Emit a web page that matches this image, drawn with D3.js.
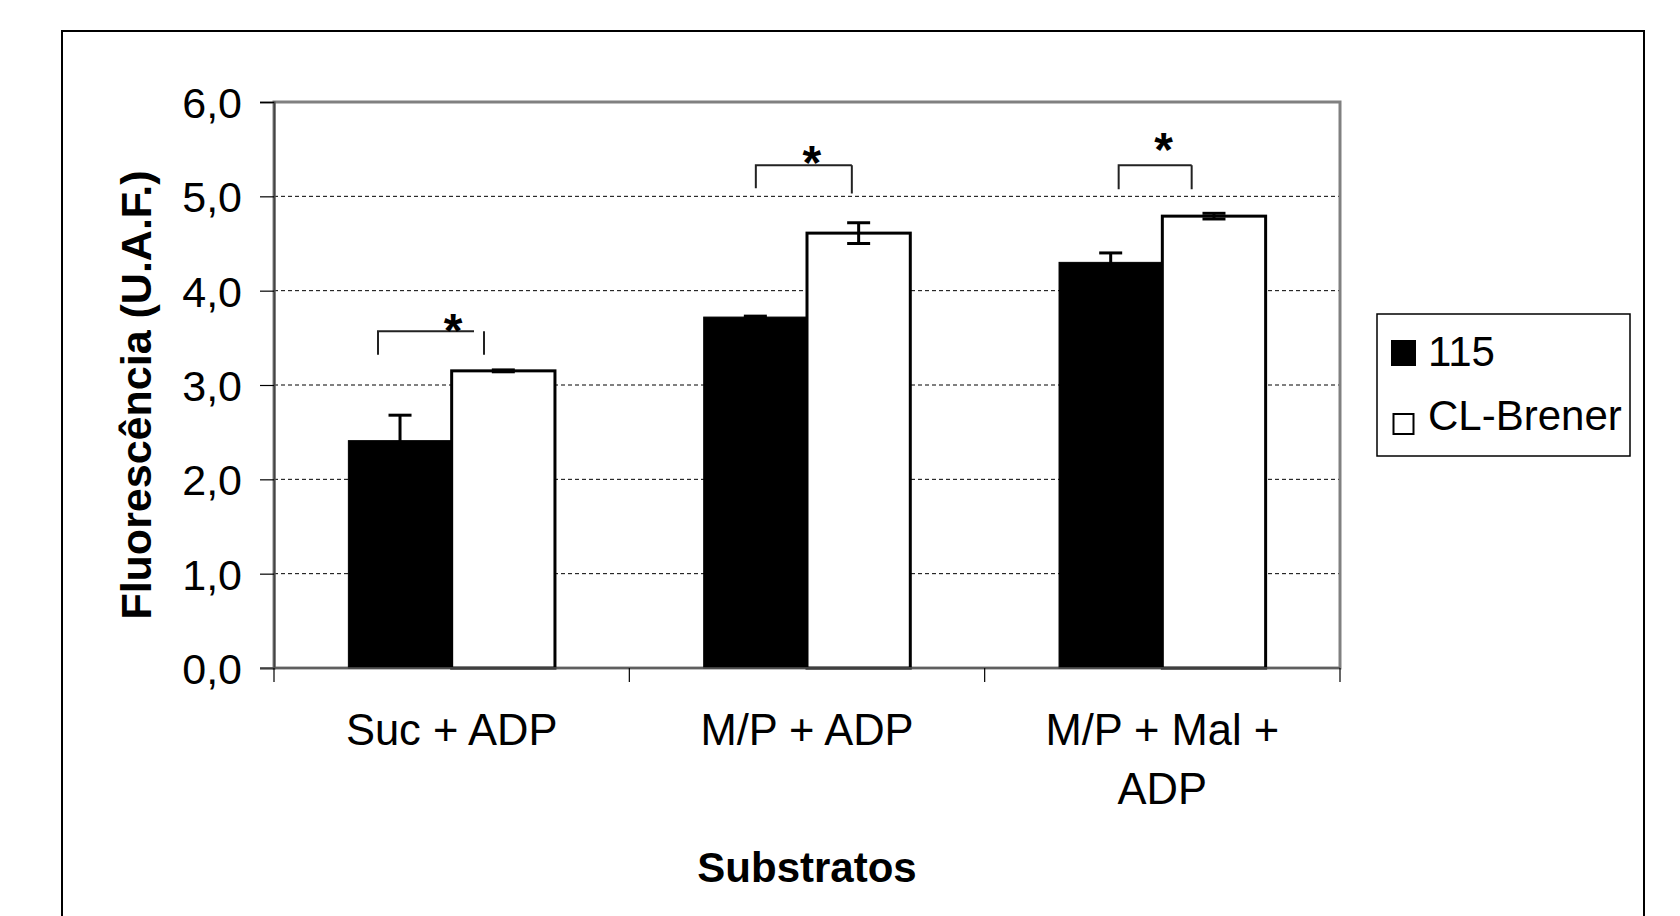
<!DOCTYPE html>
<html>
<head>
<meta charset="utf-8">
<script src="https://cdn.jsdelivr.net/npm/d3@7"></script>
<style>
  body { margin: 0; background: #fff; }
  svg text { font-family: "Liberation Sans", Arial, sans-serif; fill: #000; }
</style>
</head>
<body>
<div class="chartD3"></div>
<script>
// data
const categories = [['Suc + ADP'], ['M/P + ADP'], ['M/P + Mal +', 'ADP']];
const seriesNames = ['115', 'CL-Brener'];
const values115 = [2.41, 3.72, 4.30];
const valuesCL = [3.15, 4.61, 4.79];
const err115 = [0.27, 0.01, 0.10];
const errCL = [0.01, 0.11, 0.03];
const yTicks = [0, 1, 2, 3, 4, 5, 6];
// significance brackets: top / bottom in axis units
const sigTop = [3.57, 5.33, 5.33];
const sigBottomLeft = [3.32, 5.085, 5.075];
const sigBottomRight = [3.32, 5.03, 5.075];
const starY = [3.69, 5.47, 5.61];

let margin = {top: 102, right: 340, bottom: 248, left: 274};
let width = 1680 - margin.left - margin.right;
let height = 916 - margin.top - margin.bottom;

const svg = d3.select('.chartD3').append('svg')
    .attr('width', 1680)
    .attr('height', 916);

// outer frame
svg.append('rect')
    .attr('x', 62).attr('y', 31)
    .attr('width', 1582).attr('height', 1000)
    .attr('fill', 'none').attr('stroke', '#000').attr('stroke-width', 2);

const chart = svg.append('g')
    .attr('transform', 'translate(' + margin.left + ',' + margin.top + ')');

const catKeys = categories.map(c => c.join(' '));
let x0 = d3.scaleBand().domain(catKeys).range([0, width]).padding(0);
let x1 = d3.scaleBand().domain(seriesNames).range([0, x0.bandwidth()])
    .paddingInner(0).paddingOuter(0.72);
let y = d3.scaleLinear().domain([0, 6]).range([height, 0]);

// dashed gridlines
chart.append('g')
    .selectAll('line')
    .data(yTicks.filter(d => d > 0 && d < 6))
    .enter().append('line')
    .attr('x1', 0).attr('x2', width)
    .attr('y1', d => y(d)).attr('y2', d => y(d))
    .attr('stroke', '#000').attr('stroke-width', 1)
    .attr('stroke-dasharray', '4,3');

// plot area border
chart.append('rect')
    .attr('x', 0).attr('y', 0)
    .attr('width', width).attr('height', height)
    .attr('fill', 'none').attr('stroke', '#808080').attr('stroke-width', 3);

// bars
const rows = catKeys.map((k, i) => ({
    key: k,
    bars: [
        {s: seriesNames[0], v: values115[i], e: err115[i]},
        {s: seriesNames[1], v: valuesCL[i], e: errCL[i]}
    ]
}));

const groups = chart.selectAll('.grp')
    .data(rows)
    .enter().append('g')
    .attr('class', 'grp')
    .attr('transform', d => 'translate(' + x0(d.key) + ',0)');

groups.selectAll('rect')
    .data(d => d.bars)
    .enter().append('rect')
    .attr('x', d => x1(d.s))
    .attr('y', d => y(d.v))
    .attr('width', x1.bandwidth())
    .attr('height', d => height - y(d.v))
    .attr('fill', d => d.s === '115' ? '#000' : '#fff')
    .attr('stroke', '#000')
    .attr('stroke-width', d => d.s === '115' ? 1 : 3);

// error bars
const eb = groups.selectAll('.err')
    .data(d => d.bars)
    .enter().append('g')
    .attr('class', 'err')
    .attr('stroke', '#000').attr('stroke-width', 3);
const cx = d => x1(d.s) + x1.bandwidth() / 2;
eb.append('line')
    .attr('x1', cx).attr('x2', cx)
    .attr('y1', d => y(d.v + d.e)).attr('y2', d => y(d.v - d.e));
eb.append('line')
    .attr('x1', d => cx(d) - 11.5).attr('x2', d => cx(d) + 11.5)
    .attr('y1', d => y(d.v + d.e)).attr('y2', d => y(d.v + d.e));
eb.append('line')
    .attr('x1', d => cx(d) - 11.5).attr('x2', d => cx(d) + 11.5)
    .attr('y1', d => y(d.v - d.e)).attr('y2', d => y(d.v - d.e));

// significance brackets (x offsets from group start)
const brLeft = [104, 126.5, 134];
const brHEnd = [200, 222.5, 207];
const brRight = [210, 222.5, 207];
const starX = [179, 182.5, 179];
groups.each(function(d, i) {
    const g = d3.select(this);
    g.append('path')
        .attr('d', 'M' + brLeft[i] + ',' + y(sigBottomLeft[i]) +
                   'V' + y(sigTop[i]) + 'H' + brHEnd[i])
        .attr('fill', 'none').attr('stroke', '#222').attr('stroke-width', 2);
    g.append('line')
        .attr('x1', brRight[i]).attr('x2', brRight[i])
        .attr('y1', y(sigTop[i])).attr('y2', y(sigBottomRight[i]))
        .attr('stroke', '#222').attr('stroke-width', 2);
    g.append('text')
        .attr('x', starX[i]).attr('y', y(starY[i]) + 27)
        .attr('text-anchor', 'middle')
        .style('font-size', '48px').style('font-weight', 'bold')
        .text('*');
});

// y axis
const yAxis = d3.axisLeft(y)
    .tickValues(yTicks)
    .tickSize(14)
    .tickPadding(18)
    .tickFormat(d => d.toFixed(1).replace('.', ','));
const yg = chart.append('g').call(yAxis);
yg.select('.domain').attr('stroke', '#444').attr('stroke-width', 2);
yg.selectAll('.tick line').attr('stroke', '#000').attr('stroke-width', 1.2);
yg.selectAll('.tick text')
    .style('font-size', '43px')
    .attr('dy', '0.36em');

// x axis: line, boundary ticks, labels
chart.append('line')
    .attr('x1', -14).attr('x2', width)
    .attr('y1', height).attr('y2', height)
    .attr('stroke', '#555').attr('stroke-width', 1.5);
const bounds = catKeys.map(k => x0(k)).concat([width]);
chart.selectAll('.xtick')
    .data(bounds)
    .enter().append('line')
    .attr('class', 'xtick')
    .attr('x1', d => d).attr('x2', d => d)
    .attr('y1', height).attr('y2', height + 14)
    .attr('stroke', '#000').attr('stroke-width', 1.2);

const labels = chart.selectAll('.xlab')
    .data(categories)
    .enter().append('text')
    .attr('class', 'xlab')
    .attr('text-anchor', 'middle')
    .style('font-size', '43.5px');
labels.each(function(lines, i) {
    const t = d3.select(this);
    const xc = x0(catKeys[i]) + x0.bandwidth() / 2;
    lines.forEach((ln, j) => {
        t.append('tspan')
            .attr('x', xc)
            .attr('y', height + 77 + j * 59)
            .text(ln);
    });
});

// axis titles
chart.append('text')
    .attr('x', width / 2).attr('y', 780)
    .attr('text-anchor', 'middle')
    .style('font-size', '42px').style('font-weight', 'bold')
    .text('Substratos');

svg.append('text')
    .attr('transform', 'translate(151,' + (margin.top + height / 2 + 10) + ') rotate(-90)')
    .attr('text-anchor', 'middle')
    .style('font-size', '43px').style('font-weight', 'bold')
    .text('Fluorescência (U.A.F.)');

// legend
const legend = svg.append('g').attr('transform', 'translate(1377,314)');
legend.append('rect')
    .attr('width', 253).attr('height', 142)
    .attr('fill', '#fff').attr('stroke', '#000').attr('stroke-width', 1.5);
const li = legend.selectAll('.li')
    .data(seriesNames)
    .enter().append('g')
    .attr('class', 'li')
    .attr('transform', (d, i) => 'translate(0,' + (i * 64) + ')');
li.append('rect')
    .attr('x', (d, i) => i === 0 ? 15 : 16.5)
    .attr('y', (d, i) => i === 0 ? 27 : 36)
    .attr('width', (d, i) => i === 0 ? 23 : 20)
    .attr('height', (d, i) => i === 0 ? 24 : 20)
    .attr('fill', (d, i) => i === 0 ? '#000' : '#fff')
    .attr('stroke', '#000').attr('stroke-width', 2);
li.append('text')
    .attr('x', 51).attr('y', 52)
    .style('font-size', '42px')
    .text(d => d);
</script>
</body>
</html>
